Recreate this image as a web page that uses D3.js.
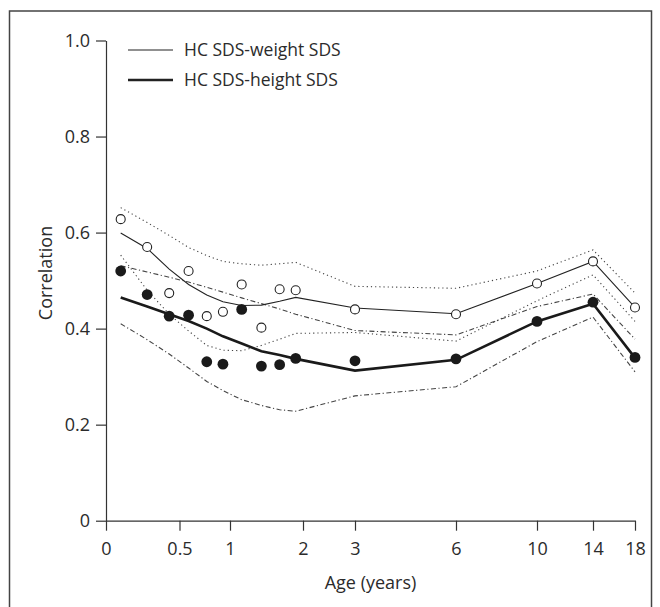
<!DOCTYPE html>
<html>
<head>
<meta charset="utf-8">
<script src="https://cdn.jsdelivr.net/npm/d3@7"></script>
<style>
  body { margin: 0; background: #fff; }
  svg { display: block; font-family: "Open Sans", sans-serif; }
  .axis text { font-size: 18px; fill: #2b2b2b; font-family: "Open Sans", sans-serif; }
  .axis path, .axis line { stroke: #333; stroke-width: 1.2; }
</style>
</head>
<body>
<div id="chart"></div>
<script>
// age at each estimate
const ages = [0.1, 0.28, 0.43, 0.59, 0.77, 0.93, 1.16, 1.43, 1.68, 1.9, 3, 6, 10, 14, 18];

// observed correlations
const weightObs = [0.628, 0.570, 0.474, 0.520, 0.426, 0.435, 0.492, 0.402, 0.482, 0.480, 0.440, 0.430, 0.494, 0.540, 0.444];
const heightObs = [0.520, 0.471, 0.426, 0.428, 0.331, 0.326, 0.440, 0.322, 0.325, 0.338, 0.333, 0.337, 0.415, 0.455, 0.340];

// fitted curves and their bands
const weightFit   = [0.599, 0.567, 0.524, 0.492, 0.470, 0.456, 0.448, 0.449, 0.457, 0.465, 0.443, 0.431, 0.494, 0.540, 0.444];
const weightUpper = [0.652, 0.621, 0.594, 0.569, 0.552, 0.540, 0.535, 0.532, 0.535, 0.538, 0.488, 0.484, 0.520, 0.564, 0.474];
const weightLower = [0.553, 0.480, 0.430, 0.395, 0.365, 0.355, 0.354, 0.365, 0.378, 0.390, 0.392, 0.374, 0.458, 0.512, 0.415];
const heightFit   = [0.465, 0.446, 0.430, 0.416, 0.400, 0.384, 0.369, 0.353, 0.345, 0.337, 0.3125, 0.335, 0.415, 0.452, 0.339];
const heightUpper = [0.531, 0.518, 0.507, 0.497, 0.486, 0.476, 0.464, 0.452, 0.441, 0.430, 0.396, 0.387, 0.446, 0.472, 0.378];
const heightLower = [0.410, 0.377, 0.347, 0.318, 0.290, 0.271, 0.252, 0.240, 0.231, 0.228, 0.260, 0.279, 0.373, 0.424, 0.310];

const ageTicks = [0, 0.5, 1, 2, 3, 6, 10, 14, 18];
const corrTicks = [0, 0.2, 0.4, 0.6, 0.8, 1.0];
const legendLabels = ["HC SDS-weight SDS", "HC SDS-height SDS"];

const width = 660;
const height = 607;

// the age axis is stretched unevenly, one segment per tick
const tickPos = [106, 179.5, 230, 303, 355, 456, 537, 593, 635];

const x = d3.scaleLinear().domain(ageTicks).range(tickPos);
const y = d3.scaleLinear().domain([0, 1]).range([520.7, 40.5]);

const svg = d3.select("#chart")
  .append("svg")
  .attr("width", width)
  .attr("height", height);

// frame
svg.append("rect")
  .attr("x", 9.5)
  .attr("y", 11)
  .attr("width", 642)
  .attr("height", 620)
  .attr("fill", "none")
  .attr("stroke", "#444")
  .attr("stroke-width", 1.5);

svg.append("g")
  .attr("class", "axis")
  .attr("transform", `translate(0,${y(0)})`)
  .call(d3.axisBottom(x).tickValues(ageTicks).tickFormat(d => d).tickSize(10).tickSizeOuter(0).tickPadding(12));

svg.append("g")
  .attr("class", "axis")
  .attr("transform", `translate(${x(0)},0)`)
  .call(d3.axisLeft(y).tickValues(corrTicks).tickFormat(d => d === 0 ? "0" : d3.format(".1f")(d)).tickSize(10).tickSizeOuter(0).tickPadding(6));

svg.append("text")
  .attr("x", (x(0) + x(18)) / 2)
  .attr("y", 589)
  .attr("text-anchor", "middle")
  .attr("font-size", 18)
  .attr("fill", "#2b2b2b")
  .text("Age (years)");

svg.append("text")
  .attr("transform", "translate(52,273) rotate(-90)")
  .attr("text-anchor", "middle")
  .attr("font-size", 18)
  .attr("fill", "#2b2b2b")
  .text("Correlation");

const line = vals => d3.line()
  .x((d, i) => x(ages[i]))
  .y(d => y(d))(vals);

const bands = [
  { vals: weightUpper, dash: "1.2,3" },
  { vals: weightLower, dash: "1.2,3" },
  { vals: heightUpper, dash: "5,2.5,1.2,2.5" },
  { vals: heightLower, dash: "5,2.5,1.2,2.5" }
];

svg.selectAll(".band")
  .data(bands)
  .enter().append("path")
  .attr("class", "band")
  .attr("d", d => line(d.vals))
  .attr("fill", "none")
  .attr("stroke", "#444")
  .attr("stroke-width", 1.1)
  .attr("stroke-dasharray", d => d.dash);

svg.append("path")
  .attr("d", line(weightFit))
  .attr("fill", "none")
  .attr("stroke", "#222")
  .attr("stroke-width", 1.1);

svg.append("path")
  .attr("d", line(heightFit))
  .attr("fill", "none")
  .attr("stroke", "#1a1a1a")
  .attr("stroke-width", 2.6);

svg.selectAll(".open")
  .data(weightObs)
  .enter().append("circle")
  .attr("class", "open")
  .attr("cx", (d, i) => x(ages[i]))
  .attr("cy", d => y(d))
  .attr("r", 4.5)
  .attr("fill", "#fff")
  .attr("stroke", "#222")
  .attr("stroke-width", 1.1);

svg.selectAll(".filled")
  .data(heightObs)
  .enter().append("circle")
  .attr("class", "filled")
  .attr("cx", (d, i) => x(ages[i]))
  .attr("cy", d => y(d))
  .attr("r", 5.4)
  .attr("fill", "#1a1a1a");

// legend
const legend = svg.selectAll(".legend-item")
  .data(legendLabels)
  .enter().append("g")
  .attr("class", "legend-item")
  .attr("transform", (d, i) => `translate(128,${50 + i * 30})`);

legend.append("line")
  .attr("x1", 0)
  .attr("x2", 45)
  .attr("stroke", "#222")
  .attr("stroke-width", (d, i) => i === 0 ? 1.1 : 2.6);

legend.append("text")
  .attr("x", 56)
  .attr("dy", "0.35em")
  .attr("font-size", 17.5)
  .attr("fill", "#2b2b2b")
  .text(d => d);
</script>
</body>
</html>
